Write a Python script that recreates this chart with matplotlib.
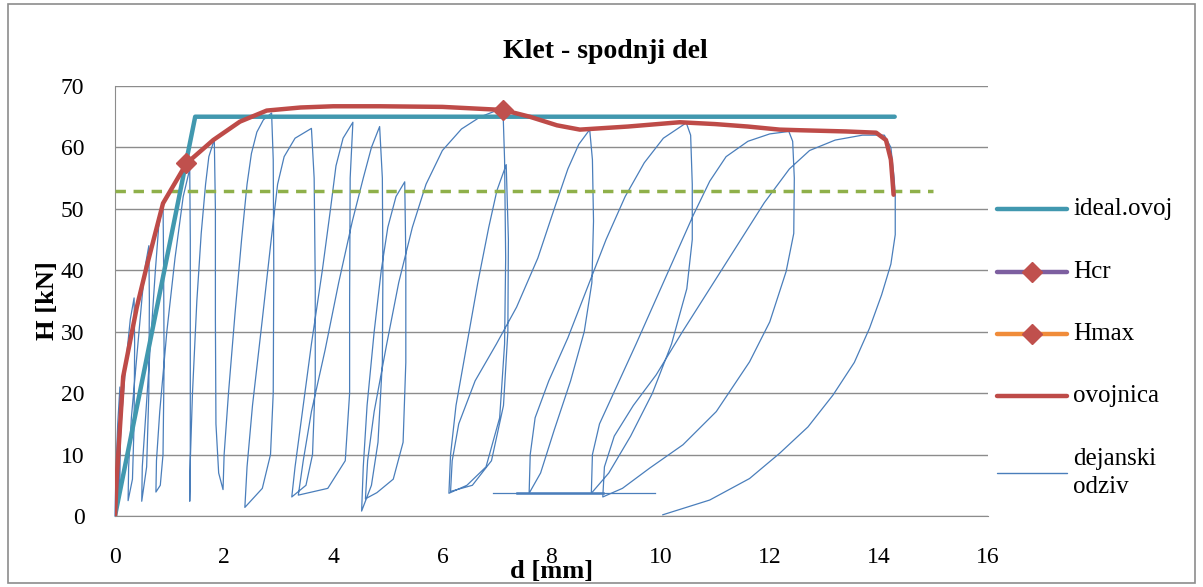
import numpy as np
import matplotlib
matplotlib.use("Agg")
import matplotlib.pyplot as plt
from matplotlib.lines import Line2D
from matplotlib.patches import Rectangle

# ---------------- data ----------------
title = "Klet - spodnji del"
x_label = "d [mm]"
y_label = "H [kN]"
x_ticks = [0, 2, 4, 6, 8, 10, 12, 14, 16]
y_ticks = [0, 10, 20, 30, 40, 50, 60, 70]

# idealised envelope
ideal_d = [0.0, 1.47, 14.29]
ideal_h = [0.0, 65.0, 65.0]

# characteristic points
hcr_d = [1.30]
hcr_h = [57.5]
hmax_d = [7.11]
hmax_h = [66.1]

# envelope curve (ovojnica)
env_d = [0.0, 0.03, 0.15, 0.40, 0.58, 0.88, 1.31, 1.80, 2.29, 2.78, 3.40, 4.00,
         4.85, 6.00, 7.11, 7.60, 8.10, 8.52, 9.40, 10.35, 11.00, 11.60, 12.18,
         12.55, 13.40, 13.95, 14.13, 14.22, 14.27]
env_h = [0.0, 5.9, 22.7, 34.0, 40.6, 50.9, 57.4, 61.2, 64.2, 66.0, 66.5, 66.7,
         66.7, 66.6, 66.1, 65.0, 63.6, 62.9, 63.4, 64.1, 63.8, 63.4, 62.9,
         62.8, 62.6, 62.4, 61.2, 58.0, 52.3]

# 0.8 * Hmax level (dashed)
level_d = [0.0, 15.0]
level_h = [52.9, 52.9]

# measured response (dejanski odziv) - vertices read cycle by cycle
resp_d = [
    0.00, 0.02, 0.05, 0.09, 0.10, 0.09, 0.06,
    0.07, 0.12, 0.20, 0.28, 0.35, 0.36, 0.35, 0.32, 0.24,
    0.25, 0.30, 0.40, 0.50, 0.56, 0.62, 0.63, 0.62, 0.58, 0.49,
    0.50, 0.56, 0.65, 0.74, 0.80, 0.88, 0.89, 0.90, 0.88, 0.83, 0.75,
    0.76, 0.82, 0.95, 1.10, 1.25, 1.37, 1.38, 1.38, 1.38, 1.37,
    1.38, 1.42, 1.50, 1.58, 1.66, 1.72, 1.82, 1.84, 1.84, 1.85, 1.90, 1.98,
    2.00, 2.08, 2.20, 2.32, 2.42, 2.50, 2.60, 2.72, 2.87,
    2.90, 2.91, 2.90, 2.85, 2.70, 2.38,
    2.42, 2.52, 2.70, 2.85, 2.98, 3.10, 3.30, 3.60,
    3.65, 3.67, 3.67, 3.62, 3.50, 3.24,
    3.30, 3.42, 3.60, 3.80, 3.95, 4.05, 4.18, 4.36,
    4.31, 4.30, 4.30, 4.22, 3.90, 3.36,
    3.45, 3.60, 3.85, 4.10, 4.35, 4.55, 4.70, 4.85,
    4.90, 4.91, 4.90, 4.82, 4.70, 4.52,
    4.55, 4.62, 4.75, 4.88, 5.00, 5.15, 5.31,
    5.33, 5.33, 5.28, 5.10, 4.80, 4.59,
    4.63, 4.75, 4.98, 5.20, 5.45, 5.70, 6.00, 6.35, 6.70, 7.11,
    7.14, 7.16, 7.14, 7.05, 6.80, 6.45, 6.12,
    6.15, 6.25, 6.45, 6.65, 6.85, 7.00, 7.17,
    7.21, 7.20, 7.12, 6.90, 6.55, 6.15,
    6.18, 6.30, 6.60, 6.99, 7.36, 7.75, 8.05, 8.30, 8.50, 8.70,
    8.75, 8.77, 8.74, 8.60, 8.35, 8.05, 7.80, 7.59,
    7.61, 7.70, 7.95, 8.30, 8.65, 9.00, 9.35, 9.70, 10.05, 10.47,
    10.55, 10.58, 10.58, 10.48, 10.20, 9.85, 9.45, 9.05, 8.73,
    8.75, 8.88, 9.19, 9.55, 9.90, 10.25, 10.60, 10.90, 11.20, 11.60, 12.00, 12.35,
    12.42, 12.45, 12.44, 12.30, 12.00, 11.63, 11.02, 10.41, 9.80, 9.30, 8.94,
    8.97, 9.15, 9.50, 9.92, 10.40, 10.90, 11.40, 11.90, 12.36, 12.73, 13.20, 13.70,
    14.10, 14.22, 14.28, 14.30,
    14.30, 14.22, 14.05, 13.83, 13.55, 13.16, 12.70, 12.18, 11.63, 10.90, 10.04,
]
resp_h = [
    0.0, 8.0, 15.0, 21.0, 14.0, 6.0, 3.0,
    8.0, 16.0, 25.0, 32.0, 35.5, 28.0, 15.0, 6.0, 2.5,
    8.0, 16.0, 26.0, 36.0, 41.0, 44.0, 35.0, 20.0, 8.0, 2.4,
    8.0, 16.0, 28.0, 40.0, 47.0, 51.0, 42.0, 25.0, 10.0, 5.0, 3.9,
    9.0, 17.0, 30.0, 42.0, 52.0, 56.5, 45.0, 25.0, 10.0, 2.4,
    9.0, 20.0, 35.0, 46.0, 54.0, 58.5, 61.3, 50.0, 32.0, 15.0, 7.0, 4.3,
    10.0, 20.0, 33.0, 45.0, 54.0, 59.0, 62.5, 64.5, 65.6,
    58.0, 40.0, 20.0, 10.0, 4.5, 1.4,
    8.0, 18.0, 32.0, 44.0, 54.0, 58.5, 61.5, 63.1,
    55.0, 38.0, 22.0, 10.0, 5.0, 3.1,
    8.0, 16.0, 28.0, 40.0, 50.0, 57.0, 61.5, 64.1,
    55.0, 35.0, 20.0, 9.0, 4.5, 3.4,
    9.0, 17.0, 27.0, 38.0, 48.0, 55.0, 60.0, 63.4,
    55.0, 40.0, 25.0, 12.0, 5.0, 0.8,
    8.0, 18.0, 30.0, 40.0, 47.0, 52.0, 54.4,
    42.0, 25.0, 12.0, 6.0, 3.8, 2.8,
    9.0, 17.0, 28.0, 38.0, 47.0, 54.0, 59.5, 63.0, 65.0, 66.4,
    58.0, 42.0, 28.0, 16.0, 8.0, 5.0, 3.7,
    10.0, 18.0, 28.0, 38.0, 47.0, 53.0, 57.2,
    45.0, 30.0, 18.0, 9.0, 5.0, 4.0,
    9.0, 15.0, 22.0, 28.0, 34.0, 42.0, 50.0, 56.5, 60.5, 62.9,
    58.0, 48.0, 38.0, 30.0, 22.0, 14.0, 7.0, 3.7,
    10.0, 16.0, 22.0, 29.0, 37.0, 45.0, 52.0, 57.5, 61.5, 64.0,
    62.0, 54.0, 45.0, 37.0, 28.0, 20.0, 13.0, 7.0, 3.7,
    10.0, 15.0, 21.0, 28.0, 35.0, 42.0, 49.0, 54.5, 58.5, 61.0, 62.2, 62.6,
    61.0, 55.0, 46.0, 39.8, 31.6, 25.1, 17.0, 11.6, 7.8, 4.5, 3.1,
    8.0, 13.0, 18.0, 23.0, 30.0, 37.0, 44.0, 51.0, 56.5, 59.5, 61.2, 62.0,
    62.0, 60.0, 55.0, 52.0,
    45.8, 41.0, 36.0, 30.6, 25.0, 19.7, 14.5, 10.2, 6.1, 2.6, 0.2,
]
# short horizontal trace at the bottom
base_d = [6.93, 9.89]
base_h = [3.7, 3.7]
base2_d = [7.36, 8.94]
base2_h = [3.7, 3.7]

legend_labels = ["ideal.ovoj", "Hcr", "Hmax", "ovojnica", "dejanski\nodziv"]

# ---------------- styling ----------------
C_IDEAL = "#4198AF"
C_ENV = "#BE4B48"
C_MARK = "#C0504D"
C_HCR = "#7D5FA0"
C_HMAX = "#F08C3A"
C_RESP = "#4A7EBB"
C_LEVEL = "#8FB04A"
C_GRID = "#8C8C8C"
SERIF = ["Liberation Serif", "DejaVu Serif"]

W, H = 1203, 587
fig = plt.figure(figsize=(W / 100, H / 100), dpi=100)
fig.patch.set_facecolor("white")


def fx(px):
    return px / W


def fy(py):
    return 1 - py / H


ax_l, ax_r, ax_t, ax_b = 115, 988, 86, 516
ax = fig.add_axes([fx(ax_l), fy(ax_b), (ax_r - ax_l) / W, (ax_b - ax_t) / H])

ax.set_xlim(0, 16)
ax.set_ylim(0, 70)
ax.set_xticks(x_ticks)
ax.set_yticks(y_ticks)
ax.tick_params(length=0, labelsize=17)
for lab in ax.get_xticklabels() + ax.get_yticklabels():
    lab.set_fontfamily(SERIF)
ax.tick_params(axis="x", pad=22)
ax.tick_params(axis="y", pad=22)

ax.grid(axis="y", color=C_GRID, lw=1.0, zorder=0)
for s in ["top", "right"]:
    ax.spines[s].set_visible(False)
ax.spines["left"].set_color(C_GRID)
ax.spines["bottom"].set_color(C_GRID)
ax.set_axisbelow(True)

# series
ax.plot(resp_d, resp_h, color=C_RESP, lw=0.9, zorder=2, clip_on=False)
ax.plot(base_d, base_h, color=C_RESP, lw=0.9, zorder=2)
ax.plot(base2_d, base2_h, color=C_RESP, lw=1.8, zorder=2)
ax.plot(level_d, level_h, color=C_LEVEL, lw=2.5, ls=(0, (3, 2.2)), zorder=3)
ax.plot(ideal_d, ideal_h, color=C_IDEAL, lw=3.2, zorder=4, solid_capstyle="round")
ax.plot(env_d, env_h, color=C_ENV, lw=3.2, zorder=5, solid_capstyle="round")
ax.plot(hcr_d, hcr_h, ls="none", marker="D", ms=10, color=C_MARK, zorder=6)
ax.plot(hmax_d, hmax_h, ls="none", marker="D", ms=10, color=C_MARK, zorder=6)

# labels
ax.set_xlabel(x_label, fontsize=19, fontweight="bold", family=SERIF)
ax.xaxis.set_label_coords(0.5, -0.103)
ax.set_ylabel(y_label, fontsize=19, fontweight="bold", family=SERIF)
ax.yaxis.set_label_coords(-0.064, 0.5)
fig.text(fx(605), fy(52), title, ha="center", va="center", fontsize=20,
         fontweight="bold", family=SERIF)

# legend (manual, at right)
leg_y = [209, 272, 334, 396, 473]
styles = [
    dict(color=C_IDEAL, lw=3.2),
    dict(color=C_HCR, lw=3.2),
    dict(color=C_HMAX, lw=3.2),
    dict(color=C_ENV, lw=3.2),
    dict(color=C_RESP, lw=1.0),
]
x0, x1 = 997, 1067
for i, (yy, st, lab) in enumerate(zip(leg_y, styles, legend_labels)):
    fig.add_artist(Line2D([fx(x0), fx(x1)], [fy(yy), fy(yy)], transform=fig.transFigure,
                          solid_capstyle="round", **st))
    if i in (1, 2):
        fig.add_artist(Line2D([fx((x0 + x1) / 2)], [fy(yy)], transform=fig.transFigure,
                              marker="D", ms=10, color=C_MARK, ls="none"))
    fig.text(fx(1073), fy(yy), lab, ha="left", va="center", fontsize=18,
             family=SERIF, linespacing=1.3)

# chart area border
fig.add_artist(Rectangle((fx(8), fy(583)), fx(1195) - fx(8), fy(4) - fy(583),
                         transform=fig.transFigure, fill=False, ec="#8C8C8C", lw=1.2))

fig.savefig("out.png", dpi=100, facecolor="white")
